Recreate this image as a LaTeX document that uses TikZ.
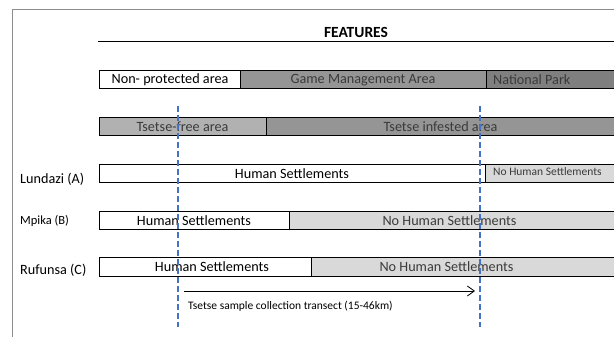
\documentclass[tikz,border=0pt]{standalone}
\usepackage{fontspec}
\setmainfont{Carlito}
\usetikzlibrary{arrows.meta}
\definecolor{gmagray}{HTML}{959595}
\definecolor{npgray}{HTML}{7F7F7F}
\definecolor{freegray}{HTML}{B1B1B1}
\definecolor{lightgray}{HTML}{D9D9D9}
\definecolor{txtgray}{HTML}{3A3A3A}
\definecolor{frame}{HTML}{8C8C8C}
\definecolor{dashblue}{HTML}{4472C4}
\tikzset{
  bar/.style={draw=black, line width=0.8pt, inner sep=0pt, anchor=north west},
  big/.style={font=\fontsize{14.2}{17}\selectfont, inner sep=0pt},
  small/.style={font=\fontsize{11.5}{14}\selectfont, inner sep=0pt},
  grayt/.style={text=txtgray},
  sitedash/.style={draw=dashblue, line width=2pt, dash pattern=on 6pt off 3pt},
}
\newcommand{\barbox}[6]{% name, x1, y1, x2, y2, fill
  \node[bar, fill=#6, minimum width={(#4-#2)*1pt}, minimum height={(#5-#3)*1pt}] (#1) at (#2,#3) {};}
\begin{document}
\begin{tikzpicture}[x=1pt,y=-1pt]
\useasboundingbox (0,0) rectangle (614,337);
\fill[white] (0,0) rectangle (614,337);
% frame
\draw[frame, line width=1pt] (12,345) -- (12,10) -- (625,10);
% header
\node[font=\fontsize{15.5}{18}\bfseries\selectfont, inner sep=0pt] (feat) at (356,32) {FEATURES};
\coordinate (hl) at (98,41);
\coordinate (hr) at (625,41);
\draw[line width=0.8pt] (hl) -- (hr);
% row 1
\barbox{np}{99}{70.5}{240}{88}{white}
\barbox{gma}{240}{70.5}{486}{88}{gmagray}
\barbox{park}{486}{70.5}{640}{88}{npgray}
\node[big] (tnp) at (170,80) {Non- protected area};
\node[big, grayt] (tgma) at (363,80) {Game Management Area};
\node[big, grayt, anchor=west] (tpark) at (493,80) {National Park};
% row 2
\barbox{free}{99}{117}{266}{135}{freegray}
\barbox{inf}{266}{117}{640}{135}{gmagray}
\node[big, grayt] (tfree) at (182.5,126.5) {Tsetse-free area};
\node[big, grayt] (tinf) at (440.5,126.5) {Tsetse infested area};
% Lundazi
\barbox{lh}{99}{164}{485}{182}{white}
\barbox{ln}{485}{164}{640}{182}{lightgray}
\node[big] (tlh) at (292,173.5) {Human Settlements};
\node[small, grayt, anchor=west] (tln) at (493,171.5) {No Human Settlements};
\node[big, anchor=west] (la) at (20,179.5) {Lundazi (A)};
% Mpika
\barbox{mh}{99}{211}{289}{229}{white}
\barbox{mn}{289}{211}{640}{229}{lightgray}
\node[big] (tmh) at (194,220.5) {Human Settlements};
\node[big, grayt] (tmn) at (449.5,220.5) {No Human Settlements};
\node[font=\fontsize{12.5}{15}\selectfont, inner sep=0pt, anchor=west] (lb) at (20,221) {Mpika (B)};
% Rufunsa
\barbox{rh}{99}{257}{311}{276}{white}
\barbox{rn}{311}{257}{640}{276}{lightgray}
\node[big] (trh) at (212,267) {Human Settlements};
\node[big, grayt] (trn) at (446.5,267) {No Human Settlements};
\node[big, anchor=west] (lc) at (20,270) {Rufunsa (C)};
% transect arrow
\coordinate (as) at (184,291);
\coordinate (ae) at (475,291);
\draw[line width=0.8pt, -{Straight Barb[length=7pt,width=10pt,line width=0.8pt]}] (as) -- (ae);
\node[small, anchor=west] (tt) at (188,306) {Tsetse sample collection transect (15-46km)};
% dashed lines
\coordinate (d1t) at (178,106);
\coordinate (d1b) at (178,327);
\coordinate (d2t) at (480,106);
\coordinate (d2b) at (480,327);
\draw[sitedash] (d1t) -- (d1b);
\draw[sitedash] (d2t) -- (d2b);
\end{tikzpicture}
\end{document}
